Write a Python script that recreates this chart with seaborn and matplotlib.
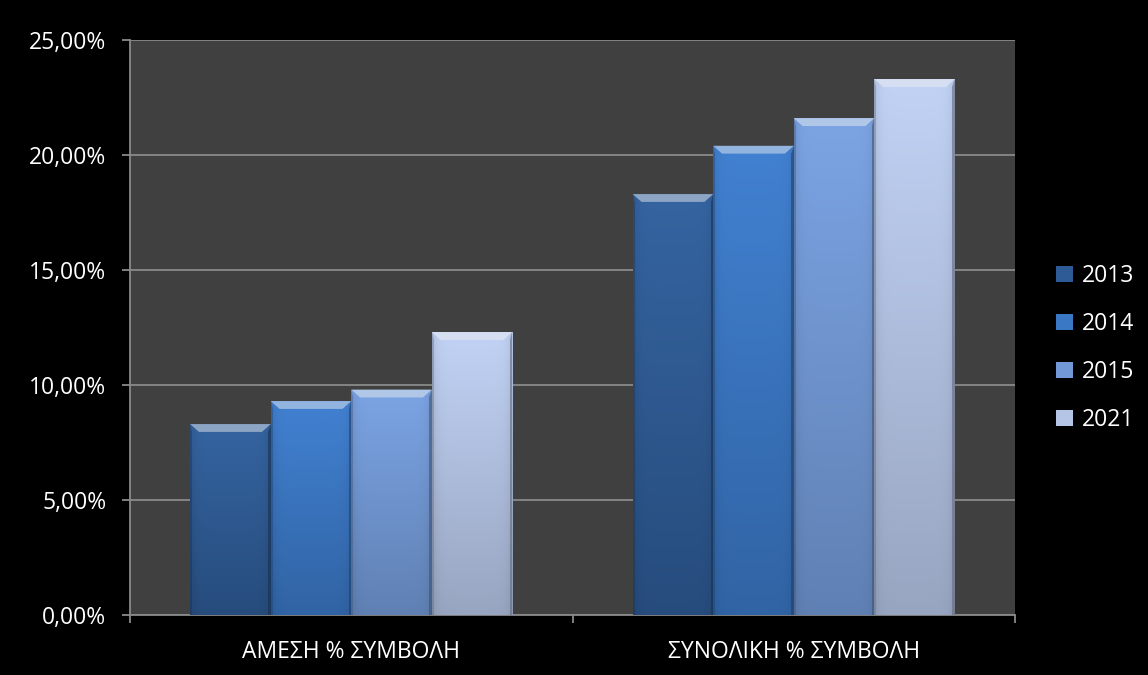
import numpy as np
import pandas as pd
import matplotlib
matplotlib.use("Agg")
import matplotlib.pyplot as plt
import matplotlib.colors as mcolors
from matplotlib.patches import Patch, Polygon
from matplotlib.ticker import FuncFormatter, FixedLocator
import seaborn as sns

# Data
categories = ["ΑΜΕΣΗ % ΣΥΜΒΟΛΗ", "ΣΥΝΟΛΙΚΗ % ΣΥΜΒΟΛΗ"]
years = ["2013", "2014", "2015", "2021"]
values_2013 = [8.3, 18.3]
values_2014 = [9.3, 20.4]
values_2015 = [9.8, 21.6]
values_2021 = [12.3, 23.3]
y_ticks = [0, 5, 10, 15, 20, 25]

series = {"2013": values_2013, "2014": values_2014, "2015": values_2015, "2021": values_2021}
df = pd.DataFrame(
    [(cat, yr, series[yr][i]) for yr in years for i, cat in enumerate(categories)],
    columns=["category", "year", "value"],
)

palette = {"2013": "#2E5B95", "2014": "#3A77C4", "2015": "#7299D6", "2021": "#B5C5E6"}

sns.set_theme(style="dark")
plt.rcParams["font.family"] = ["Open Sans", "DejaVu Sans"]
FS = 16.5

fig = plt.figure(figsize=(11.48, 6.75), dpi=100, facecolor="black")
ax = fig.add_axes([130 / 1148, 60 / 675, 885 / 1148, 575 / 675])
ax.set_facecolor("#404040")

sns.barplot(data=df, x="category", y="value", hue="year", hue_order=years,
            order=categories, palette=palette, width=0.728, saturation=1,
            edgecolor="none", linewidth=0, legend=False, ax=ax, zorder=3)

ax.set_ylim(0, 25)
ax.set_xlim(-0.5, 1.5)

# Shading and bevel on each bar
bars = [p for p in ax.patches]
for p in bars:
    x, w, h = p.get_x(), p.get_width(), p.get_height()
    base = np.array(mcolors.to_rgb(p.get_facecolor()))
    top_c = np.clip(base * 1.04 + 0.02, 0, 1)
    bot_c = base * 0.84
    t = np.linspace(0, 1, 64)[:, None]
    grad = top_c[None, :] * (1 - t) + bot_c[None, :] * t
    xs = np.linspace(-1, 1, 32)
    side = 1 - 0.08 * np.abs(xs) ** 8
    img = grad[:, None, :] * side[None, :, None]
    im = ax.imshow(np.clip(img, 0, 1), extent=[x, x + w, 0, h], aspect="auto",
                   origin="upper", zorder=3.5, interpolation="bilinear")
    im.set_clip_path(p)
    dx = w * 0.11
    dy = 0.34
    light = np.clip(base + (1 - base) * 0.45, 0, 1)
    ax.add_patch(Polygon([[x, h], [x + w, h], [x + w - dx, h - dy], [x + dx, h - dy]],
                         closed=True, facecolor=light, edgecolor="none", zorder=4))
    dark = base * 0.55
    ax.add_patch(Polygon([[x + w, h], [x + w, 0], [x + w - 0.006, 0], [x + w - 0.006, h - dy]],
                         closed=True, facecolor=dark, edgecolor="none", zorder=4, alpha=0.6))
    ax.add_patch(Polygon([[x, h], [x, 0], [x + 0.005, 0], [x + 0.005, h - dy]],
                         closed=True, facecolor=dark, edgecolor="none", zorder=4, alpha=0.4))

ax.set_xlim(-0.5, 1.5)
ax.set_ylim(0, 25)

# Grid and axes
ax.set_yticks(y_ticks)
ax.yaxis.set_major_formatter(FuncFormatter(lambda v, _: f"{v:.2f}".replace(".", ",") + "%"))
ax.grid(axis="y", color="#8a8a8a", linewidth=1.3, zorder=1)
ax.grid(axis="x", visible=False)
ax.set_axisbelow(True)
for s in ["top", "right"]:
    ax.spines[s].set_visible(False)
for s in ["left", "bottom"]:
    ax.spines[s].set_visible(True)
    ax.spines[s].set_color("#8a8a8a")
    ax.spines[s].set_linewidth(1.3)

ax.tick_params(axis="y", which="major", left=True, length=6, width=1.3, color="#8a8a8a",
               labelcolor="white", labelsize=FS, pad=11)
ax.tick_params(axis="x", which="major", bottom=False, labelcolor="white", labelsize=FS, pad=12)
ax.xaxis.set_minor_locator(FixedLocator([-0.5, 0.5, 1.5]))
ax.tick_params(axis="x", which="minor", bottom=True, length=6, width=1.3, color="#8a8a8a")
ax.set_xlabel("")
ax.set_ylabel("")

handles = [Patch(facecolor=palette[y], edgecolor="none") for y in years]
leg = fig.legend(handles, years, loc="center left", bbox_to_anchor=(1045 / 1148, 327 / 675),
                 frameon=False, fontsize=FS, labelcolor="white", handlelength=0.7,
                 handleheight=0.7, handletextpad=0.4, labelspacing=1.05, borderpad=0)

fig.savefig("out.png", dpi=100, facecolor="black")
